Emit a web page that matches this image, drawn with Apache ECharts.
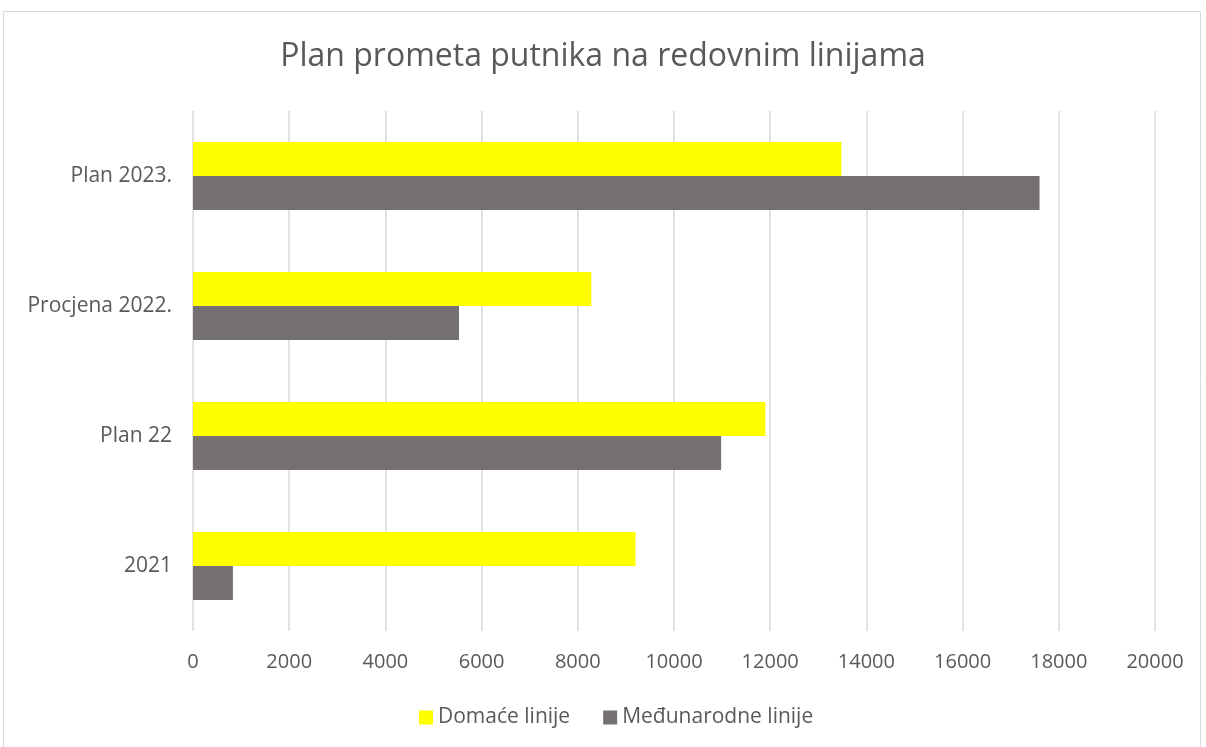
<!DOCTYPE html>
<html><head><meta charset="utf-8">
<script src="https://cdn.jsdelivr.net/npm/echarts@6/dist/echarts.min.js"></script>
<style>html,body{margin:0;padding:0;background:#fff}#c{width:1206px;height:747px}</style>
</head><body><div id="c"></div>
<script>
const categories = ['2021', 'Plan 22', 'Procjena 2022.', 'Plan 2023.'];
const domace = [9200, 11900, 8280, 13480];
const medjunarodne = [830, 10980, 5530, 17600];
const seriesNames = ['Domaće linije', 'Međunarodne linije'];
const titleText = 'Plan prometa putnika na redovnim linijama';

const chart = echarts.init(document.getElementById('c'));
const font = 'Open Sans';
chart.setOption({
  animation: false,
  backgroundColor: '#fff',
  textStyle: { fontFamily: font },
  graphic: [{ type: 'rect', shape: { x: 3.5, y: 11.5, width: 1197, height: 750 }, style: { fill: 'none', stroke: '#d9d9d9', lineWidth: 1 }, silent: true }],
  title: { text: titleText, left: 'center', top: 36, textStyle: { fontFamily: font, fontSize: 32, fontWeight: 'normal', color: '#595959' } },
  legend: {
    bottom: 14, left: 414, itemWidth: 14, itemHeight: 14, itemGap: 33,
    textStyle: { fontFamily: font, fontSize: 21, color: '#595959' },
    data: seriesNames.map(n => ({ name: n, icon: 'rect' }))
  },
  grid: { left: 193, right: 51, top: 111, bottom: 116, containLabel: false },
  xAxis: {
    type: 'value', min: 0, max: 20000, interval: 2000,
    axisLine: { show: false }, axisTick: { show: false },
    axisLabel: { fontSize: 20, color: '#595959', margin: 21, fontFamily: font, formatter: v => String(v) },
    splitLine: { lineStyle: { color: '#d9d9d9', width: 1.5 } }
  },
  yAxis: {
    type: 'category', data: categories,
    axisLine: { show: false }, axisTick: { show: false },
    axisLabel: { fontSize: 21, color: '#595959', margin: 21, fontFamily: font }
  },
  series: [
    { name: seriesNames[0], type: 'bar', data: domace, itemStyle: { color: '#ffff00' }, barGap: '0%', barCategoryGap: '47.7%' },
    { name: seriesNames[1], type: 'bar', data: medjunarodne, itemStyle: { color: '#767171' }, barGap: '0%', barCategoryGap: '47.7%' }
  ]
});
</script></body></html>
